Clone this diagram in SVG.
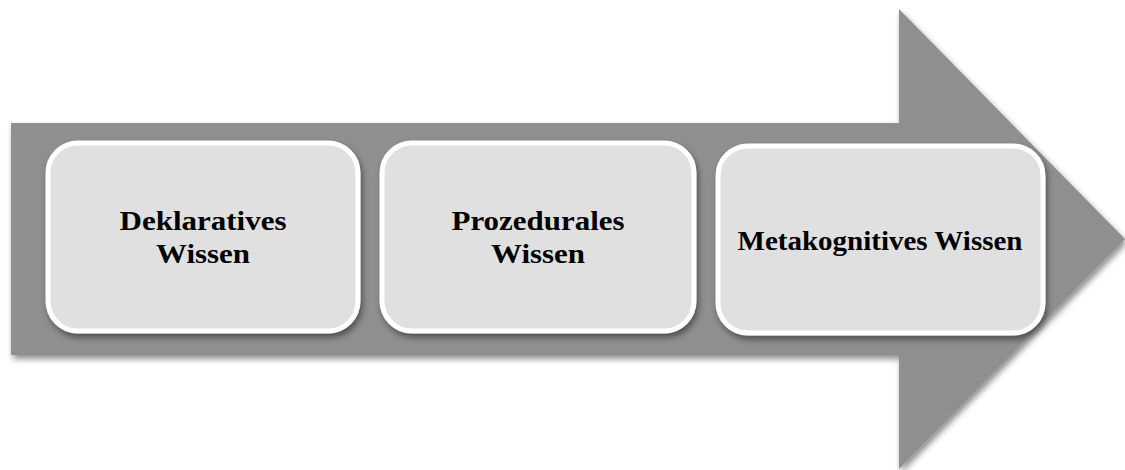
<svg xmlns="http://www.w3.org/2000/svg" width="1125" height="470" viewBox="0 0 1125 470">
<defs>
<filter id="sh" x="-10%" y="-10%" width="125%" height="130%">
<feGaussianBlur in="SourceAlpha" stdDeviation="3"/>
<feOffset dx="2" dy="4" result="b"/>
<feComponentTransfer><feFuncA type="linear" slope="0.45"/></feComponentTransfer>
<feMerge><feMergeNode/><feMergeNode in="SourceGraphic"/></feMerge>
</filter>
</defs>
<style>
.box{fill:#e0e0e0;stroke:#ffffff;stroke-width:5}
.lbl{font-family:"Liberation Serif",serif;font-weight:bold;font-size:27px;fill:#000;text-anchor:middle}
</style>
<rect width="1125" height="470" fill="#ffffff"/>
<g id="arrow">
<polygon points="11,123 899,123 899,9 1125,239 899,469 899,355 11,355" fill="#8f8f8f" filter="url(#sh)"/>
</g>
<g id="node1">
<rect class="box" x="48" y="143" width="310" height="188" rx="30" filter="url(#sh)"/>
<text class="lbl" x="203" y="230" textLength="167" lengthAdjust="spacingAndGlyphs">Deklaratives</text>
<text class="lbl" x="203" y="263" textLength="94" lengthAdjust="spacingAndGlyphs">Wissen</text>
</g>
<g id="node2">
<rect class="box" x="382" y="143" width="312" height="188" rx="30" filter="url(#sh)"/>
<text class="lbl" x="538" y="230" textLength="173" lengthAdjust="spacingAndGlyphs">Prozedurales</text>
<text class="lbl" x="538" y="263" textLength="94" lengthAdjust="spacingAndGlyphs">Wissen</text>
</g>
<g id="node3">
<rect class="box" x="718" y="146" width="325" height="187" rx="30" filter="url(#sh)"/>
<text class="lbl" x="880" y="250" textLength="285" lengthAdjust="spacingAndGlyphs">Metakognitives Wissen</text>
</g>
<g id="connectors"></g>
</svg>
